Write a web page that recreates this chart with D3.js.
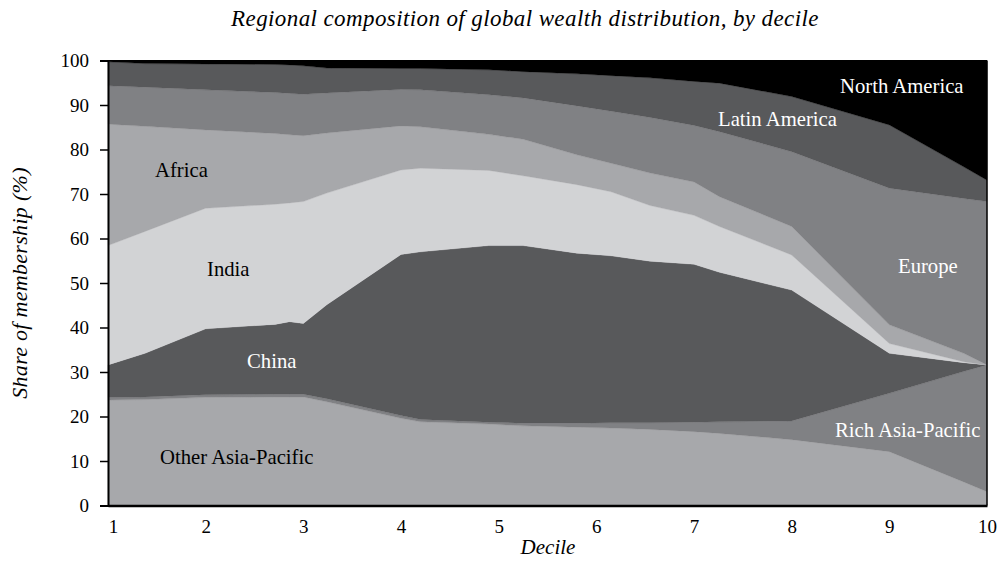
<!DOCTYPE html>
<html>
<head>
<meta charset="utf-8">
<script src="https://cdn.jsdelivr.net/npm/d3@7"></script>
<style>
  body { margin: 0; background: #fff; }
  text { font-family: "Liberation Serif", "DejaVu Serif", serif; }
</style>
</head>
<body>
<svg id="vis" width="1002" height="564"></svg>
<script>
var MARGINS = {top: 60.5, right: 15, bottom: 58.5, left: 108};
var width = 1002;
var height = 564;

// decile positions where the bands change slope
var deciles = [1, 1.38, 2, 2.71, 2.86, 3, 3.24, 4, 4.2, 4.9, 5.25, 5.8, 6.15, 6.55, 7, 7.26, 8, 9, 9.76, 10];

// share of each region (%) at those positions, bottom to top
var otherAsiaPacific = [23.7, 23.8, 24.3, 24.4, 24.4, 24.4, 23.3, 19.6, 18.8, 18.3, 17.9, 17.6, 17.4, 17.1, 16.6, 16.2, 14.8, 12.1, 5.3, 3.1];
var richAsiaPacific  = [0.6, 0.6, 0.6, 0.6, 0.6, 0.6, 0.7, 0.6, 0.5, 0.4, 0.6, 0.9, 1.2, 1.5, 2.1, 2.6, 4.2, 13.1, 24.8, 28.5];
var china            = [7.3, 9.8, 14.8, 15.7, 16.3, 15.9, 21.1, 36.2, 37.7, 39.7, 39.9, 38.2, 37.5, 36.3, 35.5, 33.6, 29.4, 9.0, 2.0, 0.0];
var india            = [26.8, 27.4, 27.1, 27.0, 26.7, 27.4, 25.1, 19.0, 18.8, 16.9, 15.7, 15.4, 14.4, 12.5, 11.0, 10.3, 7.9, 2.2, 0.2, 0.0];
var africa           = [27.3, 23.6, 17.6, 15.9, 15.3, 14.8, 13.5, 9.9, 9.3, 8.1, 8.2, 6.7, 6.4, 7.3, 7.5, 6.7, 6.4, 4.2, 1.9, 0.0];
var europe           = [8.6, 8.8, 9.0, 9.2, 9.3, 9.3, 9.0, 8.2, 8.3, 8.9, 9.3, 11.0, 11.7, 12.5, 12.7, 14.6, 16.8, 30.7, 34.8, 36.7];
var latinAmerica     = [5.4, 5.3, 5.8, 6.3, 6.4, 6.4, 5.6, 4.7, 4.8, 5.6, 5.9, 7.2, 8.0, 8.9, 9.9, 10.9, 12.4, 14.2, 7.1, 4.8];
var northAmerica     = [0.3, 0.7, 0.8, 0.9, 1.0, 1.2, 1.7, 1.8, 1.8, 2.1, 2.5, 3.0, 3.4, 3.9, 4.7, 5.1, 8.1, 14.5, 23.9, 26.9];

var regions = ["Other Asia-Pacific", "Rich Asia-Pacific", "China", "India", "Africa", "Europe", "Latin America", "North America"];
var yTicks = [0, 10, 20, 30, 40, 50, 60, 70, 80, 90, 100];
var xTicks = [1, 2, 3, 4, 5, 6, 7, 8, 9, 10];

var colors = ["#a7a8ab", "#808184", "#58595b", "#d2d3d5", "#a7a8ab", "#808184", "#58595b", "#000000"];

run();

function run() {
    var display = d3.select("#vis");

    // build rows for the stack from the arrays
    var series = [otherAsiaPacific, richAsiaPacific, china, india, africa, europe, latinAmerica, northAmerica];
    var data = deciles.map(function (x, i) {
        var row = {decile: x};
        regions.forEach(function (r, k) { row[r] = series[k][i]; });
        return row;
    });

    var xScale = d3.scaleLinear()
        .domain([1, 10])
        .range([MARGINS.left, width - MARGINS.right]);
    var yScale = d3.scaleLinear()
        .domain([0, 100])
        .range([height - MARGINS.bottom, MARGINS.top]);

    var layers = d3.stack().keys(regions)(data);

    var area = d3.area()
        .x(function (d) { return xScale(d.data.decile); })
        .y0(function (d) { return yScale(d[0]); })
        .y1(function (d) { return yScale(d[1]); });

    display.append("g")
        .selectAll("path")
        .data(layers)
        .enter()
        .append("path")
        .attr("d", area)
        .attr("fill", function (d, i) { return colors[i]; })
        .attr("stroke", function (d, i) { return colors[i]; })
        .attr("stroke-width", 0.3);

    // frame round the plot
    display.append("line")
        .attr("x1", MARGINS.left).attr("x2", width - MARGINS.right)
        .attr("y1", MARGINS.top).attr("y2", MARGINS.top)
        .attr("stroke", "#000").attr("stroke-width", 1);
    display.append("line")
        .attr("x1", width - MARGINS.right).attr("x2", width - MARGINS.right)
        .attr("y1", MARGINS.top).attr("y2", height - MARGINS.bottom)
        .attr("stroke", "#000").attr("stroke-width", 1.5);

    // axes
    var yAxis = d3.axisLeft(yScale)
        .tickValues(yTicks)
        .tickSize(8)
        .tickPadding(11);
    var gy = display.append("g")
        .attr("transform", "translate(" + MARGINS.left + ",0)")
        .call(yAxis);
    gy.select(".domain").attr("stroke-width", 2);
    gy.selectAll(".tick line").attr("stroke-width", 1.5);
    gy.selectAll("text")
        .style("font-family", "Liberation Serif")
        .style("font-size", "19px")
        .attr("fill", "#000");

    var xAxis = d3.axisBottom(xScale)
        .tickValues(xTicks)
        .tickSize(0)
        .tickSizeOuter(0)
        .tickPadding(14);
    var gx = display.append("g")
        .attr("transform", "translate(0," + (height - MARGINS.bottom) + ")")
        .call(xAxis);
    gx.select(".domain").attr("stroke-width", 2.5);
    gx.selectAll("text")
        .style("font-family", "Liberation Serif")
        .style("font-size", "19px")
        .attr("fill", "#000");
    // nudge the first label like the original
    gx.selectAll(".tick text").filter(function (d) { return d === 1; }).attr("dx", 5);

    // titles
    display.append("text")
        .attr("x", 525)
        .attr("y", 26)
        .attr("text-anchor", "middle")
        .style("font-style", "italic")
        .style("font-size", "23px")
        .style("letter-spacing", "0.4px")
        .text("Regional composition of global wealth distribution, by decile");
    display.append("text")
        .attr("x", 548)
        .attr("y", 554)
        .attr("text-anchor", "middle")
        .style("font-style", "italic")
        .style("font-size", "21px")
        .text("Decile");
    display.append("text")
        .attr("transform", "translate(27,283) rotate(-90)")
        .attr("text-anchor", "middle")
        .style("font-style", "italic")
        .style("font-size", "22px")
        .style("letter-spacing", "0.3px")
        .text("Share of membership (%)");

    // labels inside the bands
    var labels = [
        {text: "North America", x: 840, y: 93, fill: "#fff"},
        {text: "Latin America", x: 718, y: 126, fill: "#fff"},
        {text: "Africa", x: 155, y: 177, fill: "#000"},
        {text: "India", x: 207, y: 276, fill: "#000"},
        {text: "Europe", x: 898, y: 273, fill: "#fff"},
        {text: "China", x: 247, y: 368, fill: "#fff"},
        {text: "Rich Asia-Pacific", x: 835, y: 437, fill: "#fff"},
        {text: "Other Asia-Pacific", x: 160, y: 464, fill: "#000"}
    ];
    display.append("g")
        .selectAll("text")
        .data(labels)
        .enter()
        .append("text")
        .attr("x", function (d) { return d.x; })
        .attr("y", function (d) { return d.y; })
        .attr("fill", function (d) { return d.fill; })
        .style("font-size", "20.7px")
        .text(function (d) { return d.text; });
}
</script>
</body>
</html>
